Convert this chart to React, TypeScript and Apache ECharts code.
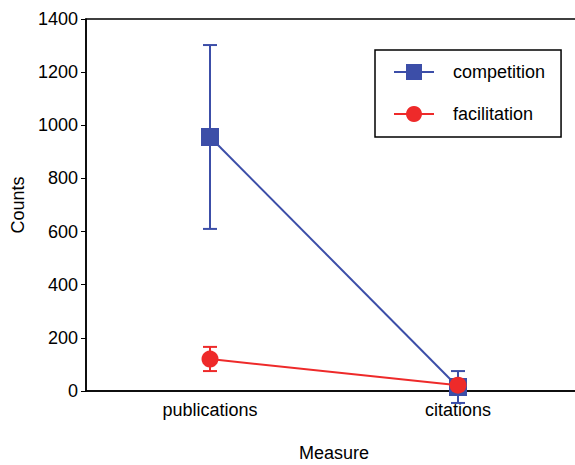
import React, { useEffect, useRef } from "react";
import * as echarts from "echarts";

const categories = ["publications", "citations"];
const competitionMean = [956, 15];
const competitionLow = [610, -45];
const competitionHigh = [1302, 75];
const facilitationMean = [120, 22];
const facilitationLow = [75, 22];
const facilitationHigh = [166, 22];
const yTicks = { min: 0, max: 1400, interval: 200 };

const BLUE = "#3c4ea8";
const RED = "#ee2a2a";

function errorSeries(low: number[], high: number[], color: string) {
  return {
    type: "custom",
    z: 1,
    silent: true,
    clip: false,
    data: low.map((l, i) => [i, l, high[i]]),
    encode: { x: 0, y: [1, 2] },
    renderItem: (params: any, api: any) => {
      const x = api.value(0);
      const lo = api.coord([x, api.value(1)]);
      const hi = api.coord([x, api.value(2)]);
      if (Math.abs(lo[1] - hi[1]) < 1) return { type: "group", children: [] };
      const hw = 7;
      const style = { stroke: color, lineWidth: 2 };
      return {
        type: "group",
        children: [
          { type: "line", shape: { x1: lo[0], y1: lo[1], x2: hi[0], y2: hi[1] }, style },
          { type: "line", shape: { x1: lo[0] - hw, y1: lo[1], x2: lo[0] + hw, y2: lo[1] }, style },
          { type: "line", shape: { x1: hi[0] - hw, y1: hi[1], x2: hi[0] + hw, y2: hi[1] }, style },
        ],
      };
    },
  };
}

export default function App() {
  const ref = useRef<HTMLDivElement>(null);
  useEffect(() => {
    if (!ref.current) return;
    const chart = echarts.init(ref.current, null, { renderer: "svg" });
    const font = "Liberation Sans, Arial, sans-serif";
    chart.setOption({
      animation: false,
      textStyle: { fontFamily: font },
      grid: {
        left: 86,
        top: 19,
        width: 496,
        height: 372,
        containLabel: false,
        outerBoundsMode: "none",
        show: true,
        borderColor: "#000",
        borderWidth: 1.5,
        backgroundColor: "transparent",
      },
      legend: {
        data: ["competition", "facilitation"],
        orient: "vertical",
        left: 375,
        top: 50,
        padding: [13, 16, 14, 18],
        itemGap: 24,
        itemWidth: 40,
        itemHeight: 20,
        borderColor: "#000",
        borderWidth: 1.5,
        textStyle: { fontSize: 18, color: "#000", fontFamily: font, padding: [0, 0, 0, 14] },
      },
      xAxis: {
        type: "category",
        data: categories,
        boundaryGap: true,
        name: "Measure",
        nameLocation: "middle",
        nameGap: 53,
        nameTextStyle: { fontSize: 18, color: "#000", fontFamily: font },
        axisLine: { lineStyle: { color: "#000", width: 1.5 } },
        axisTick: { alignWithLabel: true, length: 5, lineStyle: { color: "#000" } },
        axisLabel: { fontSize: 18, color: "#000", margin: 10, fontFamily: font },
      },
      yAxis: {
        type: "value",
        min: yTicks.min,
        max: yTicks.max,
        interval: yTicks.interval,
        name: "Counts",
        nameLocation: "middle",
        nameGap: 59,
        nameTextStyle: { fontSize: 18, color: "#000", fontFamily: font },
        axisLine: { show: true, lineStyle: { color: "#000", width: 1.5 } },
        axisTick: { show: true, length: 5, lineStyle: { color: "#000" } },
        axisLabel: {
          fontSize: 18,
          color: "#000",
          margin: 8,
          fontFamily: font,
          formatter: (v: number) => String(v),
        },
        splitLine: { show: false },
      },
      series: [
        errorSeries(competitionLow, competitionHigh, BLUE),
        errorSeries(facilitationLow, facilitationHigh, RED),
        {
          name: "competition",
          type: "line",
          z: 3,
          data: competitionMean,
          symbol: "rect",
          symbolSize: 18,
          itemStyle: { color: BLUE },
          lineStyle: { color: BLUE, width: 2 },
        },
        {
          name: "facilitation",
          type: "line",
          z: 4,
          data: facilitationMean,
          symbol: "circle",
          symbolSize: 17,
          itemStyle: { color: RED },
          lineStyle: { color: RED, width: 2 },
        },
      ],
    });
    return () => chart.dispose();
  }, []);
  return <div ref={ref} style={{ width: 575, height: 465, position: "absolute", left: 0, top: 0 }} />;
}
